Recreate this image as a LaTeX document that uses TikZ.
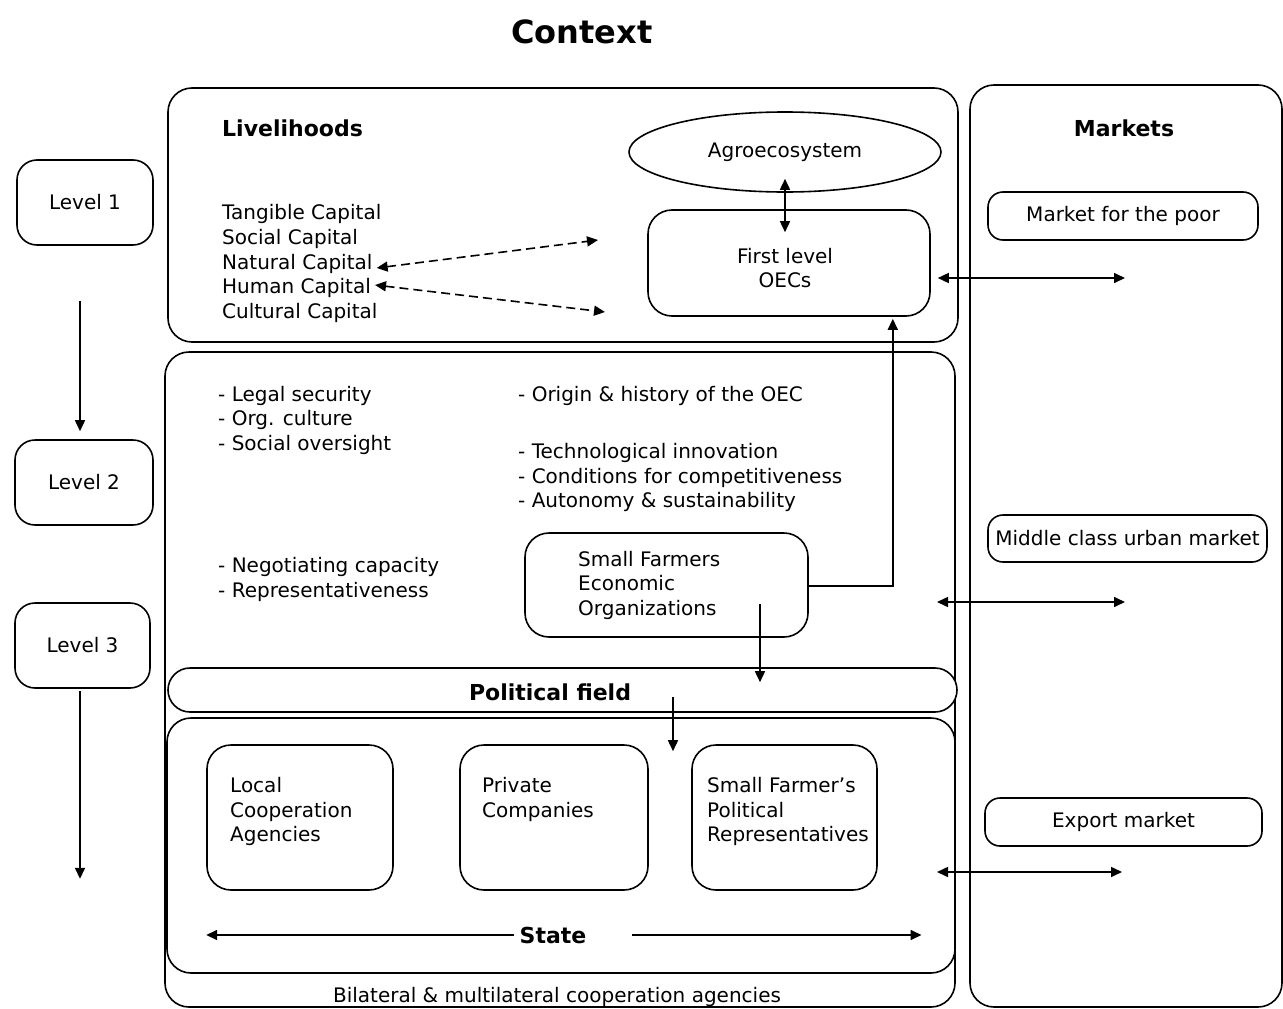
\documentclass[tikz,border=0pt]{standalone}
\usepackage{fontspec}
\setmainfont{DejaVu Sans}
\usetikzlibrary{arrows.meta,shapes.geometric,calc}
\begin{document}
\begin{tikzpicture}[x=1pt,y=-1pt,
  ln/.style={line width=1.6pt},
  box/.style={draw,ln,rounded corners=24pt,inner sep=0pt},
  sbox/.style={draw,ln,rounded corners=15pt,inner sep=0pt},
  t/.style={font=\fontsize{20}{24.5}\selectfont,inner sep=0pt,align=left},
  tb/.style={font=\fontsize{22}{26}\selectfont\bfseries,inner sep=0pt},
  tip/.tip={Triangle[length=11pt,width=10pt]},
  arr/.style={ln,-tip},
  darr/.style={ln,tip-tip},
]
\useasboundingbox (0,0) rectangle (1283,1009);

% title
\node[font=\fontsize{32}{36}\selectfont\bfseries,inner sep=0pt] (context) at (582,32) {Context};

% main containers
\node[box,minimum width=790pt,minimum height=254pt] (liv) at (563,215) {};
\node[box,minimum width=790pt,minimum height=655pt] (bil) at (560,679.5) {};
\node[draw,ln,rounded corners=22pt,inner sep=0pt,minimum width=789pt,minimum height=44pt,fill=white] (pol) at (562.5,690) {};
\node[box,minimum width=788pt,minimum height=255pt,fill=white] (state) at (561,845.5) {};
\node[box,minimum width=312pt,minimum height=922pt] (mk) at (1126,546) {};

% levels
\node[box,rounded corners=20pt,minimum width=136pt,minimum height=85pt,t] (level1) at (85,202.5) {Level 1};
\node[box,rounded corners=20pt,minimum width=138pt,minimum height=85pt,t] (level2) at (84,482.5) {Level 2};
\node[box,rounded corners=20pt,minimum width=135pt,minimum height=85pt,t] (level3) at (82.5,645.5) {Level 3};

% livelihoods
\node[tb,anchor=west] (livlbl) at (222,128) {Livelihoods};
\node[t,anchor=west] (tangible) at (222,214) {Tangible Capital};
\node[t,anchor=west] (social) at (222,239) {Social Capital};
\node[t,anchor=west] (natural) at (222,264) {Natural Capital};
\node[t,anchor=west] (human) at (222,288) {Human Capital};
\node[t,anchor=west] (cultural) at (222,313) {Cultural Capital};
\node[draw,ln,ellipse,minimum width=312pt,minimum height=80pt,t] (agro) at (785,152) {Agroecosystem};
\node[box,minimum width=282pt,minimum height=106pt] (oec) at (789,263) {};
\node[t,align=center] (oectxt) at (785,268) {First level\\OECs};

% level 2 texts
\node[t,anchor=west] (legal) at (218,420) {- Legal security\\- Org. culture\\- Social oversight};
\node[t,anchor=west] (origin) at (518,396) {- Origin \& history of the OEC};
\node[t,anchor=west] (tech) at (518,477.5) {- Technological innovation\\- Conditions for competitiveness\\- Autonomy \& sustainability};
\node[t,anchor=west] (nego) at (218,579.5) {- Negotiating capacity\\- Representativeness};
\node[box,minimum width=283pt,minimum height=104pt] (sfeo) at (666.5,585) {};
\node[t,anchor=west] (sfeotxt) at (578,585) {Small Farmers\\Economic\\Organizations};

% political field and state
\node[tb] (pollbl) at (550,692) {Political field};
\node[box,minimum width=186pt,minimum height=145pt] (lca) at (300,817.5) {};
\node[t,anchor=west] (lcatxt) at (230,811.7) {Local\\Cooperation\\Agencies};
\node[box,minimum width=188pt,minimum height=145pt] (pc) at (554,817.5) {};
\node[t,anchor=west] (pctxt) at (482,799.5) {Private\\Companies};
\node[box,minimum width=185pt,minimum height=145pt] (sfpr) at (784.5,817.5) {};
\node[t,anchor=west] (sfprtxt) at (707,811.7) {Small Farmer's\\Political\\Representatives};
\node[tb] (statelbl) at (553,935) {State};
\node[t] (bilat) at (557,997) {Bilateral \& multilateral cooperation agencies};

% markets
\node[tb] (mklbl) at (1124,128) {Markets};
\node[sbox,minimum width=270pt,minimum height=48pt,t] (mpoor) at (1123,216) {Market for the poor};
\node[sbox,minimum width=279pt,minimum height=47pt,t] (mmid) at (1127.5,538.5) {Middle class urban market};
\node[sbox,minimum width=277pt,minimum height=48pt,t] (mexp) at (1123.5,822) {Export market};

% free ends
\coordinate (c1) at (598,240);
\coordinate (c2) at (605,312);
\coordinate (m1) at (1125,278);
\coordinate (m2a) at (937,602);
\coordinate (m2b) at (1125,602);
\coordinate (m3a) at (937,872);
\coordinate (m3b) at (1122,872);

% connectors
\draw[darr,dash pattern=on 9pt off 5pt] ([xshift=4pt,yshift=-4pt]natural.east) -- (c1);
\draw[darr,dash pattern=on 9pt off 5pt] ([xshift=4pt,yshift=3pt]human.east) -- (c2);
\draw[darr] ([yshift=14pt]agro.south) -- ([xshift=-4pt,yshift=-23pt]oec.north);
\draw[darr] ($(oec.east)+(7,15)$) -- (m1);
\draw[arr] ([yshift=-1pt]sfeo.east) -| ($(oec.south east)+(-38,2)$);
\draw[arr] ($(sfeo.south)+(93.5,-34)$) -- ($(pol.north)+(197.5,15)$);
\draw[arr] ($(pol.center)+(110.5,7)$) -- ($(state.north)+(112,34)$);
\draw[darr] (m2a) -- (m2b);
\draw[darr] (m3a) -- (m3b);
\draw[arr] ($(statelbl.west)+(-5,0)$) -- (lca.west |- statelbl.west);
\draw[arr] ($(statelbl.east)+(45,0)$) -- ($(statelbl.east)+(335,0)$);
\draw[arr] ($(level1.south)+(-5,55)$) -- ($(level2.north)+(-4,-8)$);
\draw[arr] ($(level3.south)+(-2.5,2)$) -- ($(level3.south)+(-2.5,190)$);
\end{tikzpicture}
\end{document}
